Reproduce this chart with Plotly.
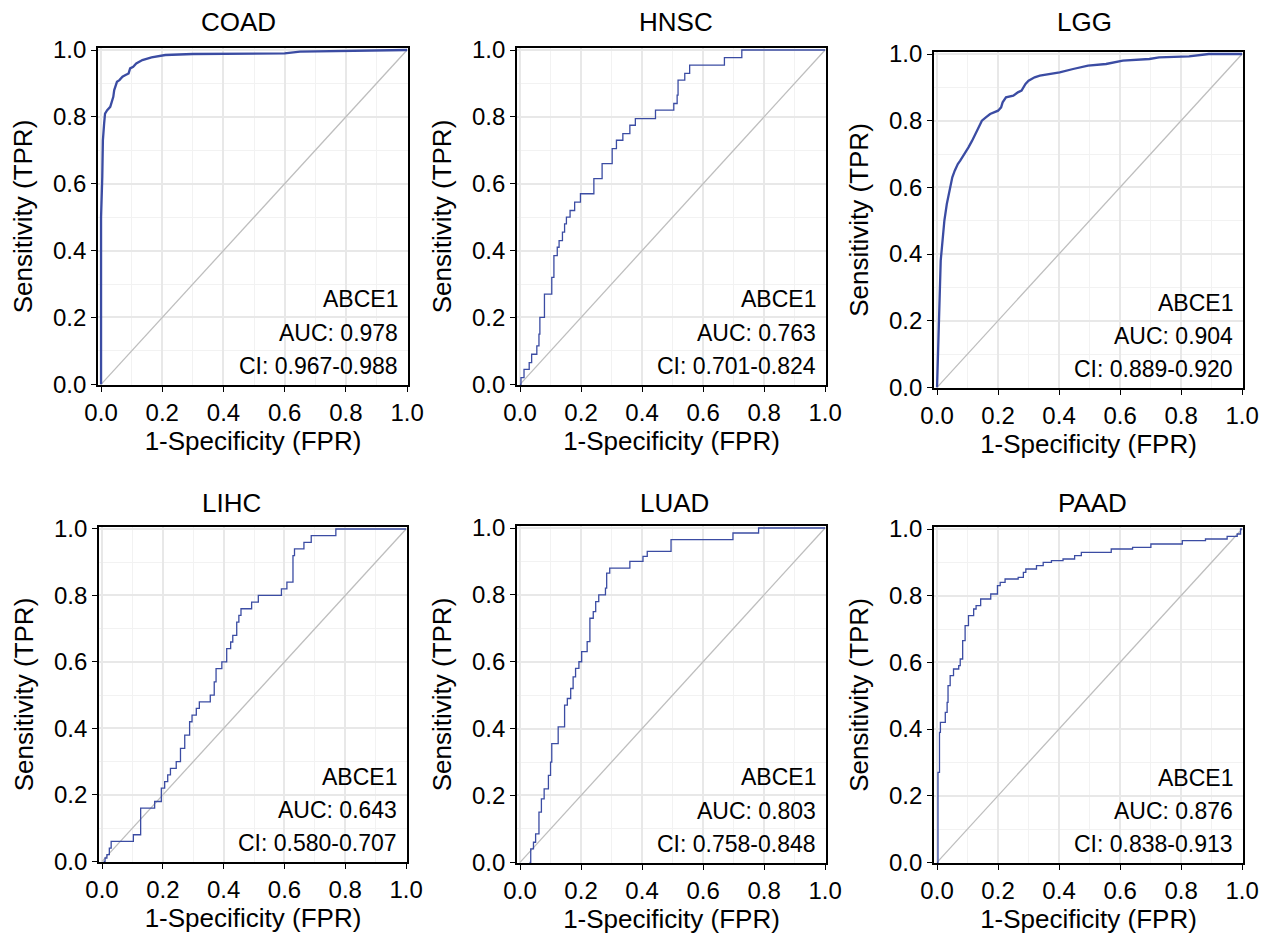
import plotly.graph_objects as go

# ---------------- data ----------------
panels = ["COAD", "HNSC", "LGG", "LIHC", "LUAD", "PAAD"]
gene = "ABCE1"
auc_labels = ["0.978", "0.763", "0.904", "0.643", "0.803", "0.876"]
ci_labels = ["0.967-0.988", "0.701-0.824", "0.889-0.920",
             "0.580-0.707", "0.758-0.848", "0.838-0.913"]

coad_fpr = [0, 0.0, 0.004, 0.006, 0.01, 0.013, 0.02, 0.03, 0.035, 0.04, 0.043, 0.048, 0.052,
            0.06, 0.07, 0.08, 0.09, 0.095, 0.105, 0.115, 0.125, 0.135, 0.165, 0.21, 0.3,
            0.6, 0.65, 0.92, 1.0]
coad_tpr = [0, 0.5, 0.62, 0.73, 0.78, 0.81, 0.82, 0.83, 0.845, 0.86, 0.88, 0.895, 0.905,
            0.91, 0.92, 0.925, 0.93, 0.945, 0.95, 0.96, 0.965, 0.97, 0.978, 0.985, 0.988,
            0.99, 0.995, 1.0, 1.0]

hnsc_fpr = [0, 0.003, 0.013, 0.03, 0.038, 0.055, 0.062, 0.065, 0.08, 0.104, 0.111, 0.122,
            0.128, 0.139, 0.146, 0.152, 0.164, 0.179, 0.198, 0.242, 0.269, 0.302, 0.316,
            0.337, 0.36, 0.378, 0.444, 0.504, 0.515, 0.518, 0.54, 0.556, 0.67, 0.727, 1.0]
hnsc_tpr = [0, 0.02, 0.045, 0.065, 0.09, 0.115, 0.15, 0.2, 0.27, 0.32, 0.385, 0.41,
            0.43, 0.455, 0.48, 0.5, 0.52, 0.545, 0.57, 0.615, 0.66, 0.705, 0.73,
            0.75, 0.775, 0.795, 0.82, 0.84, 0.865, 0.91, 0.93, 0.955, 0.977, 1.0, 1.0]

lgg_fpr = [0, 0.003, 0.005, 0.008, 0.012, 0.014, 0.018, 0.024, 0.032, 0.043, 0.05, 0.058,
           0.068, 0.076, 0.09, 0.103, 0.115, 0.125, 0.137, 0.147, 0.16, 0.174, 0.2, 0.21,
           0.215, 0.226, 0.25, 0.265, 0.277, 0.29, 0.3, 0.32, 0.337, 0.37, 0.402, 0.446,
           0.495, 0.554, 0.609, 0.696, 0.728, 0.826, 0.891, 1.0]
lgg_tpr = [0, 0.1, 0.2, 0.3, 0.38, 0.4, 0.45, 0.5, 0.55, 0.6, 0.63, 0.65,
           0.67, 0.68, 0.7, 0.72, 0.74, 0.76, 0.78, 0.8, 0.81, 0.82, 0.83, 0.84,
           0.855, 0.87, 0.875, 0.885, 0.89, 0.91, 0.92, 0.93, 0.935, 0.94, 0.945, 0.955,
           0.965, 0.97, 0.98, 0.985, 0.99, 0.993, 1.0, 1.0]

lihc_fpr = [0.005, 0.01, 0.016, 0.024, 0.03, 0.103, 0.127, 0.173, 0.195, 0.206, 0.216, 0.225,
            0.244, 0.258, 0.272, 0.288, 0.296, 0.31, 0.32, 0.356, 0.369, 0.375, 0.394,
            0.41, 0.423, 0.43, 0.443, 0.45, 0.457, 0.492, 0.514, 0.59, 0.608, 0.628,
            0.633, 0.664, 0.688, 0.769, 1.0]
lihc_tpr = [0, 0.01, 0.02, 0.04, 0.06, 0.08, 0.16, 0.18, 0.22, 0.24, 0.26, 0.28,
            0.30, 0.34, 0.38, 0.42, 0.44, 0.46, 0.48, 0.50, 0.54, 0.58, 0.60,
            0.64, 0.66, 0.68, 0.72, 0.74, 0.76, 0.78, 0.80, 0.82, 0.84, 0.92,
            0.94, 0.96, 0.98, 1.0, 1.0]

luad_fpr = [0.031, 0.035, 0.044, 0.051, 0.062, 0.07, 0.079, 0.093, 0.1, 0.104, 0.125, 0.146,
            0.155, 0.166, 0.174, 0.182, 0.193, 0.202, 0.22, 0.229, 0.24, 0.248, 0.258,
            0.28, 0.284, 0.294, 0.36, 0.403, 0.417, 0.495, 0.698, 0.782, 1.0]
luad_tpr = [0, 0.04, 0.06, 0.085, 0.15, 0.19, 0.22, 0.26, 0.30, 0.355, 0.405, 0.47,
            0.49, 0.52, 0.555, 0.58, 0.6, 0.63, 0.66, 0.73, 0.75, 0.78, 0.80,
            0.82, 0.865, 0.88, 0.90, 0.915, 0.93, 0.965, 0.985, 1.0, 1.0]

paad_fpr = [0, 0.003, 0.008, 0.011, 0.027, 0.033, 0.036, 0.043, 0.054, 0.071, 0.076, 0.084,
            0.092, 0.103, 0.12, 0.128, 0.143, 0.176, 0.198, 0.207, 0.223, 0.266, 0.283,
            0.291, 0.326, 0.348, 0.375, 0.413, 0.451, 0.473, 0.571, 0.641, 0.701, 0.804,
            0.88, 0.951, 0.984, 0.995, 1.0]
paad_tpr = [0, 0.27, 0.39, 0.42, 0.45, 0.48, 0.53, 0.56, 0.58, 0.59, 0.61, 0.665,
            0.71, 0.74, 0.76, 0.77, 0.79, 0.805, 0.83, 0.84, 0.85, 0.855, 0.87,
            0.88, 0.89, 0.9, 0.905, 0.91, 0.92, 0.93, 0.94, 0.945, 0.955, 0.965,
            0.97, 0.978, 0.985, 1.0, 1.0]

diag_x = [0, 1]
diag_y = [0, 1]

tick_vals = [0, 0.2, 0.4, 0.6, 0.8, 1.0]
tick_text = ["0.0", "0.2", "0.4", "0.6", "0.8", "1.0"]

curves = [(coad_fpr, coad_tpr), (hnsc_fpr, hnsc_tpr), (lgg_fpr, lgg_tpr),
          (lihc_fpr, lihc_tpr), (luad_fpr, luad_tpr), (paad_fpr, paad_tpr)]

# ---------------- layout constants ----------------
OFF = 8                      # page body margin of the html page
W, H = 1268 - OFF, 935 - OFF
FONT = "Liberation Sans, Arial, Helvetica, sans-serif"
CURVE_COLOR = "#3B4CA3"
DIAG_COLOR = "#BEBEBE"
# panel frames in window pixels: left, right, top, bottom
frames = [(98, 408, 48, 385), (517, 826, 48, 385), (934, 1243, 52, 388),
          (99, 407, 527, 862), (517, 826, 526, 863), (934, 1243, 527, 863)]
title_px = [(239, 22), (676, 22), (1084, 22), (231, 503), (674, 503), (1092, 503)]
line_shapes = ["linear", "hv", "linear", "hv", "hv", "hv"]
line_widths = [2.3, 1.3, 2.3, 1.3, 1.3, 1.3]


def px_x(p):
    return (p - OFF) / W


def px_y(p):
    return 1 - (p - OFF) / H


fig = go.Figure()
layout = dict(
    width=W, height=H,
    margin=dict(l=0, r=0, t=0, b=0, autoexpand=False),
    paper_bgcolor="white", plot_bgcolor="white",
    showlegend=False,
    font=dict(family=FONT, color="black"),
)
annotations = []

for i, (name, (fx, ty)) in enumerate(zip(panels, curves)):
    k = "" if i == 0 else str(i + 1)
    xa, ya = "x" + k, "y" + k
    fig.add_trace(go.Scatter(x=diag_x, y=diag_y, mode="lines", xaxis=xa, yaxis=ya,
                             line=dict(color=DIAG_COLOR, width=1.3), hoverinfo="skip"))
    fig.add_trace(go.Scatter(x=fx, y=ty, mode="lines", xaxis=xa, yaxis=ya,
                             line=dict(color=CURVE_COLOR, width=line_widths[i],
                                       shape=line_shapes[i])))
    L, R, T, B = frames[i]
    common = dict(
        tickvals=tick_vals, ticktext=tick_text,
        ticks="outside", ticklen=5, tickwidth=1.2, tickcolor="black",
        tickfont=dict(size=24, color="black", family=FONT),
        showline=True, linecolor="black", linewidth=1.8, mirror=True,
        showgrid=True, gridcolor="#E8E8E8", gridwidth=1.5,
        minor=dict(tickvals=[0.1, 0.3, 0.5, 0.7, 0.9], showgrid=True,
                   gridcolor="#F2F2F2", gridwidth=1, ticks=""),
        zeroline=False, fixedrange=True, automargin=False,
    )
    layout["xaxis" + k] = dict(
        common, domain=[px_x(L), px_x(R)], range=[-0.01, 1.003], anchor=ya,
        title=dict(text="1-Specificity (FPR)", font=dict(size=26, family=FONT),
                   standoff=7),
    )
    layout["yaxis" + k] = dict(
        common, domain=[px_y(B), px_y(T)], range=[-0.002, 1.006], anchor=xa,
        title=dict(text="Sensitivity (TPR)", font=dict(size=26, family=FONT),
                   standoff=13),
    )
    tx, tyy = title_px[i]
    annotations.append(dict(text=name, x=px_x(tx), y=px_y(tyy), xref="paper", yref="paper",
                            xanchor="center", yanchor="middle", showarrow=False,
                            font=dict(size=26, family=FONT, color="black")))
    for txt, yv in zip([gene, "AUC: " + auc_labels[i], "CI: " + ci_labels[i]],
                       [0.254, 0.155, 0.054]):
        annotations.append(dict(text=txt, x=0.978, y=yv, xref=xa, yref=ya,
                                xanchor="right", yanchor="middle", showarrow=False,
                                font=dict(size=23, family=FONT, color="black")))

layout["annotations"] = annotations
fig.update_layout(**layout)
fig.write_html("out.html")
